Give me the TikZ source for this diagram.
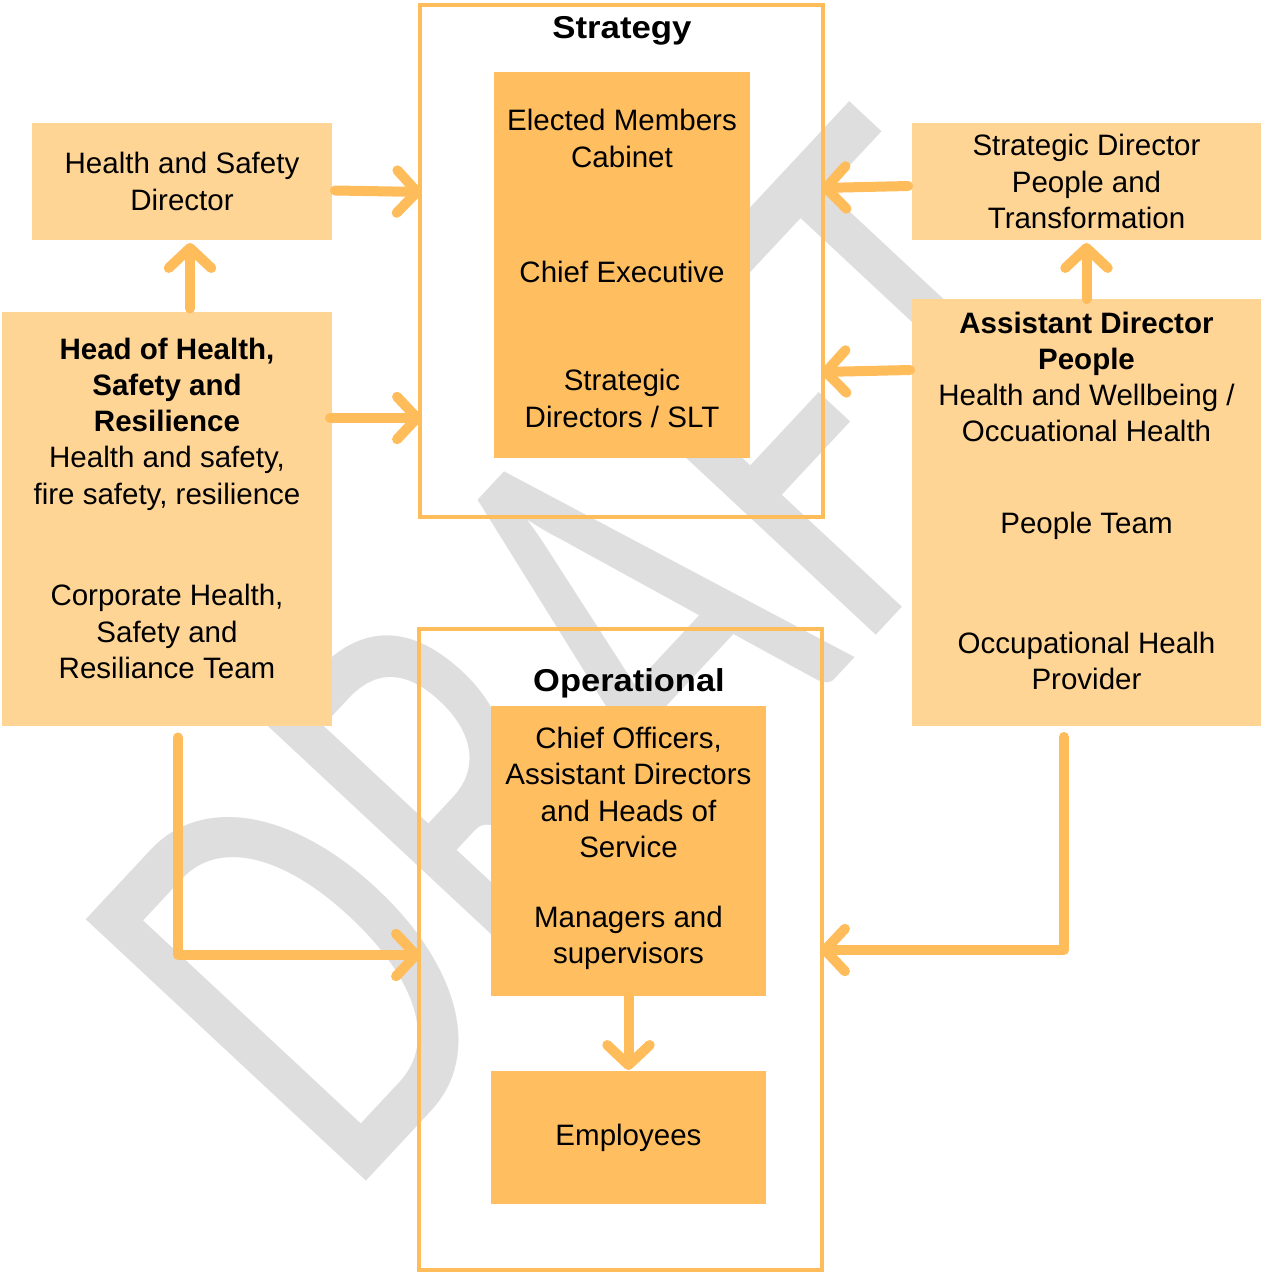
\documentclass[tikz,border=0pt]{standalone}
\usepackage{fontspec}
\setmainfont{Liberation Sans}
\newfontfamily\wmfont{Carlito}
\usetikzlibrary{arrows.meta,calc,positioning}

\definecolor{boxdark}{HTML}{FFBF60}
\definecolor{boxlight}{HTML}{FFD596}
\definecolor{linec}{HTML}{FFBC5B}
\definecolor{wmgray}{HTML}{DEDEDE}

\tikzset{
    txt/.style={font=\fontsize{16.8}{20.6}\selectfont, align=center, inner sep=0pt, outer sep=0pt},
    lightbox/.style={txt, fill=boxlight},
    darkbox/.style={txt, fill=boxdark},
    frame/.style={draw=linec, line width=0.08cm, inner sep=0pt, outer sep=0pt},
    heading/.style={font=\fontsize{18}{21}\selectfont\bfseries, inner sep=0pt},
    flow/.style={draw=linec, line width=0.2cm, line cap=round, line join=round,
        -{Straight Barb[length=0.4cm, width=0.85cm, round]}},
}

\begin{document}
\begin{tikzpicture}[x=0.02cm, y=-0.02cm]
        \useasboundingbox (0,0) rectangle (1261,1272);
        % watermark
        \node[text=wmgray, inner sep=0pt, rotate=47] (wm) at (600,650)
            {\wmfont\fontsize{340}{340}\selectfont\scalebox{0.72}[1]{DRAFT}};
        %
        % strategy
        \node[frame, minimum width=8.06cm, minimum height=10.24cm] (strat) at (621.5,261) {};
        \node[heading] (stratlbl) at (622,31) {\scalebox{1.1}[1]{Strategy}};
        \node[darkbox, minimum width=5.12cm, minimum height=2.66cm] (emc) at (622,138.5) {Elected Members\\Cabinet};
        \node[darkbox, minimum width=5.12cm, minimum height=2.68cm, below=0pt of emc] (ce) {Chief Executive};
        \node[darkbox, minimum width=5.12cm, minimum height=2.38cm, below=0pt of ce] (slt) {Strategic\\Directors / SLT};
        %
        % left side
        \node[lightbox, minimum width=6cm, minimum height=2.34cm] (hsd) at (182,181.5) {Health and Safety\\Director};
        \node[lightbox, minimum width=6.6cm, minimum height=4.5cm] (hhsr) at (167,424)
            {\textbf{Head of Health,}\\\textbf{Safety and}\\\textbf{Resilience}\\Health and safety,\\fire safety, resilience};
        \node[lightbox, minimum width=6.6cm, minimum height=3.8cm, below=0pt of hhsr] (chsrt)
            {Corporate Health,\\Safety and\\Resiliance Team};
        %
        % right side
        \node[lightbox, minimum width=6.98cm, minimum height=2.34cm] (sdpt) at (1086.5,181.5)
            {Strategic Director\\People and\\Transformation};
        \node[lightbox, minimum width=6.98cm, minimum height=3.12cm] (adp) at (1086.5,377)
            {\textbf{Assistant Director}\\\textbf{People}\\Health and Wellbeing /\\Occuational Health};
        \node[lightbox, minimum width=6.98cm, minimum height=2.82cm, below=0pt of adp] (pteam) {People Team};
        \node[lightbox, minimum width=6.98cm, minimum height=2.60cm, below=0pt of pteam] (ohp)
            {Occupational Healh\\Provider};
        %
        % operational
        \node[frame, minimum width=8.06cm, minimum height=12.82cm] (ops) at (620.5,949.5) {};
        \node[heading] (opslbl) at (629,683) {\scalebox{1.09}[1]{Operational}};
        \node[darkbox, minimum width=5.5cm, minimum height=3.46cm] (cao) at (628.5,792.5)
            {Chief Officers,\\Assistant Directors\\and Heads of\\Service};
        \node[darkbox, minimum width=5.5cm, minimum height=2.34cm, below=0pt of cao] (mgr) {Managers and\\supervisors};
        \node[darkbox, minimum width=5.5cm, minimum height=2.66cm] (emp) at (628.5,1137.5) {Employees};
        %
        \draw[flow] ($(hsd.east)+(3,9)$) -- ($(strat.west)+(2,-69)$);
        \draw[flow] ($(hhsr.east)+(-2,-6)$) -- ($(strat.west)+(2,157)$);
        \draw[flow] ($(hhsr.north)+(23,-3)$) -- ($(hsd.south)+(8,3)$);
        \draw[flow] ($(chsrt.south)+(11,11)$) |- ($(ops.west)+(2,5.5)$);
        %
        \draw[flow] ($(sdpt.west)+(-4,4.5)$) -- ($(strat.east)+(-2,-73)$);
        \draw[flow] ($(adp.west)+(-2,-7)$) -- ($(strat.east)+(-2,111)$);
        \draw[flow] (adp.north) -- ($(sdpt.south)+(0,3)$);
        \draw[flow] ($(ohp.south)+(-22.5,11)$) |- ($(ops.east)+(-2,0.5)$);
        %
        \draw[flow] (mgr.south) -- ($(emp.north)+(0,-1)$);
    \end{tikzpicture}
\end{document}
